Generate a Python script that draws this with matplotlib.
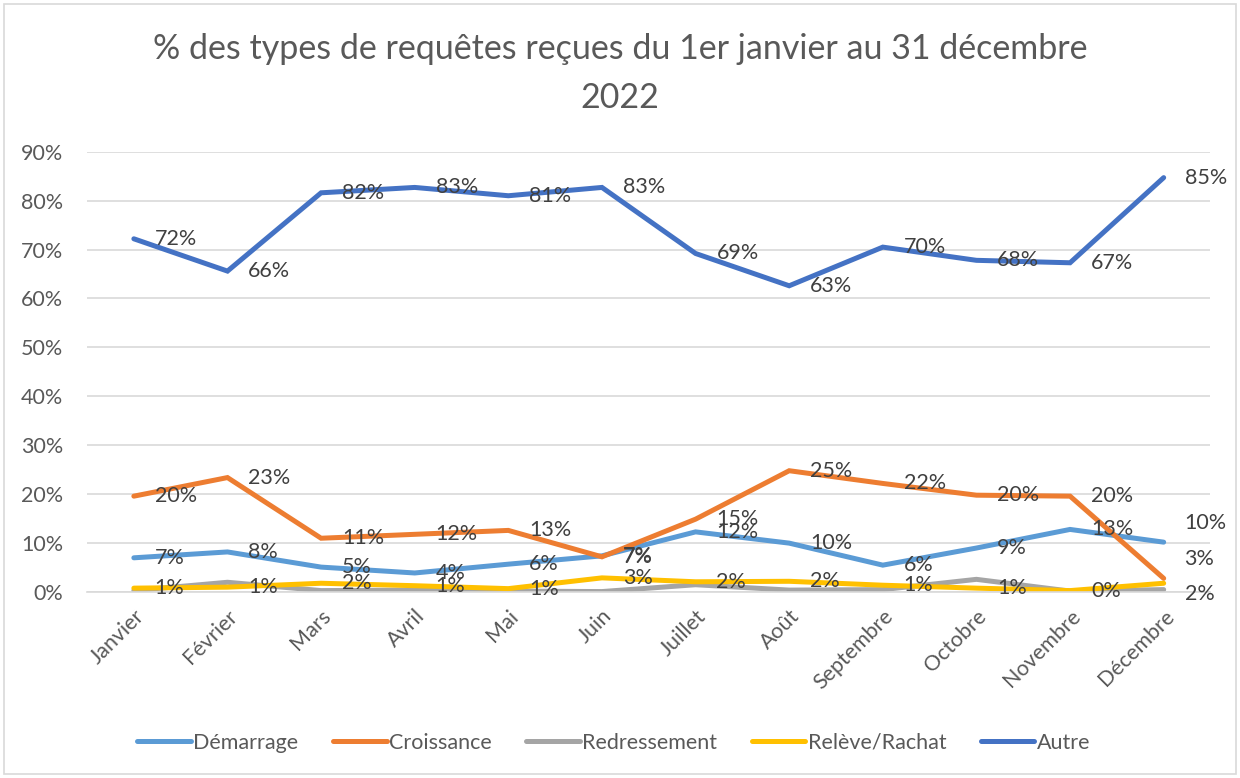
import matplotlib
matplotlib.use("Agg")
import matplotlib.pyplot as plt
from matplotlib.ticker import PercentFormatter

plt.rcParams["font.family"] = ["Lato", "DejaVu Sans"]

mois = ["Janvier", "Février", "Mars", "Avril", "Mai", "Juin", "Juillet",
        "Août", "Septembre", "Octobre", "Novembre", "Décembre"]

# valeurs en %
demarrage = [7.0, 8.2, 5.1, 3.9, 5.7, 7.4, 12.3, 10.0, 5.5, 9.0, 12.8, 10.2]
croissance = [19.6, 23.4, 11.0, 11.8, 12.6, 7.2, 14.9, 24.8, 22.2, 19.8, 19.6, 2.8]
redressement = [0.3, 2.0, 0.3, 0.4, 0.2, 0.1, 1.5, 0.4, 0.5, 2.6, 0.2, 0.5]
releve = [0.8, 1.0, 1.8, 1.3, 0.7, 2.9, 2.1, 2.2, 1.4, 0.8, 0.3, 1.8]
autre = [72.2, 65.6, 81.6, 82.7, 81.0, 82.7, 69.2, 62.6, 70.5, 67.8, 67.3, 84.7]

series = [
    ("Démarrage", demarrage, "#5B9BD5", True),
    ("Croissance", croissance, "#ED7D31", True),
    ("Redressement", redressement, "#A5A5A5", False),
    ("Relève/Rachat", releve, "#FFC000", True),
    ("Autre", autre, "#4472C4", True),
]
# decalage vertical des etiquettes de decembre (en points)
decal_dec = {"Démarrage": 14, "Croissance": 14, "Relève/Rachat": -8, "Autre": 0}

gris = "#595959"
fig = plt.figure(figsize=(12.4, 7.78), dpi=100)
ax = fig.add_axes([0.0702, 0.239, 0.906, 0.566])

x = range(len(mois))
for nom, vals, couleur, etiq in series:
    ax.plot(x, vals, color=couleur, lw=3.6, label=nom, solid_capstyle="round",
            solid_joinstyle="miter")
    if etiq:
        for i, v in enumerate(vals):
            dy = decal_dec[nom] if i == len(vals) - 1 else 0
            ax.annotate(f"{v:.0f}%", (i, v), xytext=(15, dy), textcoords="offset points",
                        ha="left", va="center", fontsize=15.5, color="#404040")

ax.set_ylim(0, 90)
ax.set_xlim(-0.5, 11.5)
ax.set_yticks(range(0, 91, 10))
ax.yaxis.set_major_formatter(PercentFormatter(decimals=0))
ax.set_xticks(list(x))
ax.set_xticklabels(mois, rotation=45, ha="right", rotation_mode="anchor")
ax.tick_params(axis="both", length=0, labelsize=15.5, labelcolor=gris)
ax.tick_params(axis="y", pad=17)
ax.tick_params(axis="x", pad=10)
ax.grid(axis="y", color="#D9D9D9", lw=1.2)
ax.set_axisbelow(True)
for s in ["top", "right", "left"]:
    ax.spines[s].set_visible(False)
ax.spines["bottom"].set_color("#D9D9D9")
ax.spines["bottom"].set_linewidth(1.2)

fig.text(0.5, 0.905, "% des types de requêtes reçues du 1er janvier au 31 décembre\n2022",
         ha="center", va="center", fontsize=24.5, color=gris, linespacing=1.65)

fig.legend(loc="center", bbox_to_anchor=(0.495, 0.045), ncol=5, frameon=False,
           fontsize=15.5, labelcolor=gris, handlelength=2.5, handletextpad=0.1,
           columnspacing=1.6)

fig.patches.append(plt.Rectangle((0.003, 0.005), 0.994, 0.99, transform=fig.transFigure,
                                 fill=False, edgecolor="#D9D9D9", lw=1.2))

fig.savefig("out.png", dpi=100)
